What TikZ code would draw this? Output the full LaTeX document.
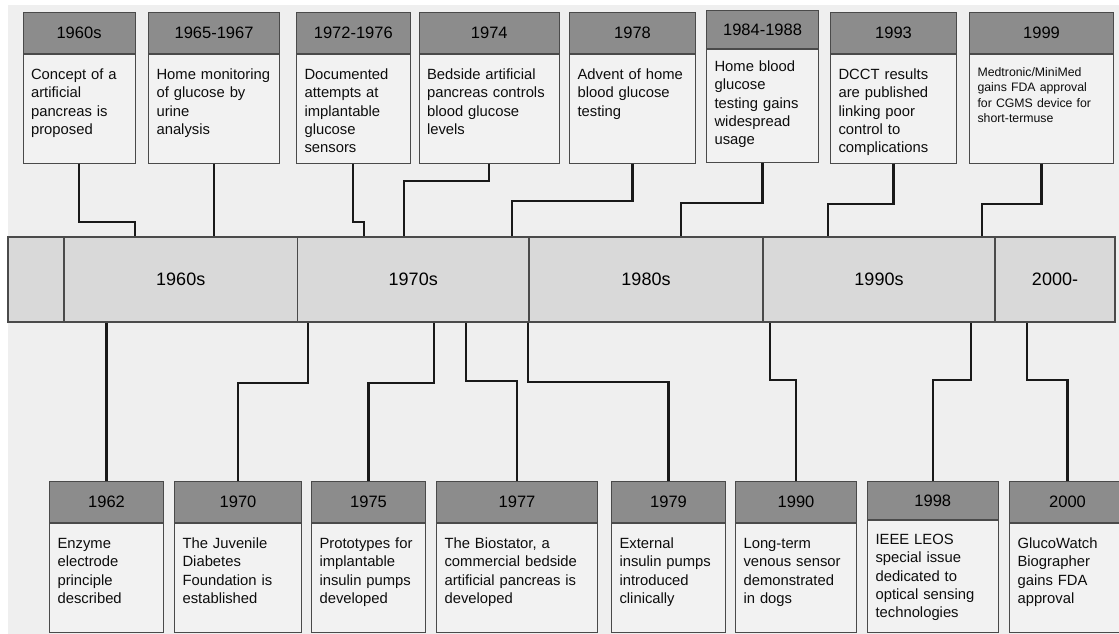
\documentclass[tikz,border=0pt]{standalone}
\usepackage{fontspec}
\setmainfont{Liberation Sans}
\definecolor{backgray}{HTML}{EFEFEF}
\definecolor{headgray}{HTML}{8C8C8C}
\definecolor{notegray}{HTML}{F2F2F2}
\definecolor{bargray}{HTML}{D9D9D9}
\definecolor{edgegray}{HTML}{4A4A4A}

\begin{document}
\begin{tikzpicture}[x=1pt, y=-1pt,
	head/.style={draw=edgegray, line width=1.1pt, fill=headgray, anchor=north west, minimum height=41pt, inner sep=0pt, text=black, font=\fontsize{16.5}{18}\selectfont},
	note/.style={draw=edgegray, line width=1.1pt, fill=notegray, anchor=north west, align=left, inner xsep=8pt, inner ysep=0pt, text height=25pt, text depth=83.5pt, text=black!95, font=\fontsize{14.8}{18.3}\selectfont},
	decade/.style={draw=edgegray, line width=1.1pt, fill=bargray, minimum height=85pt, inner sep=0pt, text=black, font=\fontsize{18}{20}\selectfont},
	link/.style={line width=2.2pt, black!90}]
	\useasboundingbox (0,0) rectangle (1119,634);
	\clip (0,0) rectangle (1119,634);
	\fill[backgray] (8,5) rectangle (1119,634);

	\node[decade, minimum width=56pt] (lead) at (36,279.5) {};
	\node[decade, minimum width=233.5pt] (d60) at (180.75,279.5) {1960s};
	\node[decade, minimum width=231.5pt] (d70) at (413.25,279.5) {1970s};
	\node[decade, minimum width=234pt] (d80) at (646,279.5) {1980s};
	\node[decade, minimum width=232pt] (d90) at (879,279.5) {1990s};
	\node[decade, minimum width=120pt] (d00) at (1055,279.5) {2000-};

	\node[head, minimum width=112pt] (h1) at (22.5,12) {1960s};
	\node[note, text width=96pt] (n1) at (h1.south west) {Concept of a\\artificial\\pancreas is\\proposed};
	\node[head, minimum width=131pt] (h2) at (148,12) {1965-1967};
	\node[note, text width=115pt] (n2) at (h2.south west) {Home monitoring\\of glucose by\\urine\\analysis};
	\node[head, minimum width=113.5pt] (h3) at (296,12) {1972-1976};
	\node[note, text width=97.5pt] (n3) at (h3.south west) {Documented\\attempts at\\implantable\\glucose\\sensors};
	\node[head, minimum width=140.5pt] (h4) at (418.5,12) {1974};
	\node[note, text width=124.5pt] (n4) at (h4.south west) {Bedside artificial\\pancreas controls\\blood glucose\\levels};
	\node[head, minimum width=126pt] (h5) at (569,12) {1978};
	\node[note, text width=110pt] (n5) at (h5.south west) {Advent of home\\blood glucose\\testing};
	\node[head, minimum width=112pt, minimum height=38pt] (h6) at (706,10) {1984-1988};
	\node[note, text width=96pt, text height=22pt, text depth=91pt] (n6) at (h6.south west) {Home blood\\glucose\\testing gains\\widespread\\usage};
	\node[head, minimum width=126pt] (h7) at (830,12) {1993};
	\node[note, text width=110pt] (n7) at (h7.south west) {DCCT results\\are published\\linking poor\\control to\\complications};
	\node[head, minimum width=144pt] (h8) at (969,12) {1999};
	\node[note, text width=128pt, text height=22pt, text depth=86.5pt, font=\fontsize{12.3}{15.3}\selectfont] (n8) at (h8.south west) {Medtronic/MiniMed\\gains FDA approval\\for CGMS device for\\short-termuse};

	\node[head, minimum width=114pt] (h9) at (49,481) {1962};
	\node[note, text width=98pt] (n9) at (h9.south west) {Enzyme\\electrode\\principle\\described};
	\node[head, minimum width=127pt] (h10) at (174,481) {1970};
	\node[note, text width=111pt] (n10) at (h10.south west) {The Juvenile\\Diabetes\\Foundation is\\established};
	\node[head, minimum width=114pt] (h11) at (311,481) {1975};
	\node[note, text width=98pt] (n11) at (h11.south west) {Prototypes for\\implantable\\insulin pumps\\developed};
	\node[head, minimum width=161pt] (h12) at (436,481) {1977};
	\node[note, text width=145pt] (n12) at (h12.south west) {The Biostator, a\\commercial bedside\\artificial pancreas is\\developed};
	\node[head, minimum width=114pt] (h13) at (611,481) {1979};
	\node[note, text width=98pt] (n13) at (h13.south west) {External\\insulin pumps\\introduced\\clinically};
	\node[head, minimum width=121pt] (h14) at (735,481) {1990};
	\node[note, text width=105pt] (n14) at (h14.south west) {Long-term\\venous sensor\\demonstrated\\in dogs};
	\node[head, minimum width=130.5pt, minimum height=38pt] (h15) at (867,481) {1998};
	\node[note, text width=114.5pt, text height=24pt, text depth=87.5pt] (n15) at (h15.south west) {IEEE LEOS\\special issue\\dedicated to\\optical sensing\\technologies};
	\node[head, minimum width=116pt] (h16) at (1009,481) {2000};
	\node[note, text width=100pt] (n16) at (h16.south west) {GlucoWatch\\Biographer\\gains FDA\\approval};

	\draw[link] (n1.south) -- ++(0,58) -| (135,0 |- d60.north);
	\draw[link] (n2.south) -- (n2.south |- d60.north);
	\draw[link] (n3.south) -- ++(0,58) -| (364,0 |- d70.north);
	\draw[link] (n4.south) -- ++(0,17) -| (404,0 |- d70.north);
	\draw[link] (n5.south) -- ++(0,37) -| (512,0 |- d70.north);
	\draw[link] (n6.south) -- ++(0,40) -| (681,0 |- d80.north);
	\draw[link] (n7.south) -- ++(0,40) -| (828,0 |- d90.north);
	\draw[link] (n8.south) -- ++(0,40) -| (982,0 |- d90.north);

	\draw[link] (h9.north) -- (h9.north |- d60.south);
	\draw[link] (h10.north) -- ++(0,-98) -| (308,0 |- d70.south);
	\draw[link] (h11.north) -- ++(0,-98) -| (434,0 |- d70.south);
	\draw[link] (h12.north) -- ++(0,-100) -| (466,0 |- d70.south);
	\draw[link] (h13.north) -- ++(0,-99) -| (528,0 |- d70.south);
	\draw[link] (h14.north) -- ++(0,-101) -| (770,0 |- d90.south);
	\draw[link] (h15.north) -- ++(0,-101) -| (971,0 |- d90.south);
	\draw[link] (h16.north) -- ++(0,-101) -| (1027,0 |- d00.south);
\end{tikzpicture}
\end{document}
